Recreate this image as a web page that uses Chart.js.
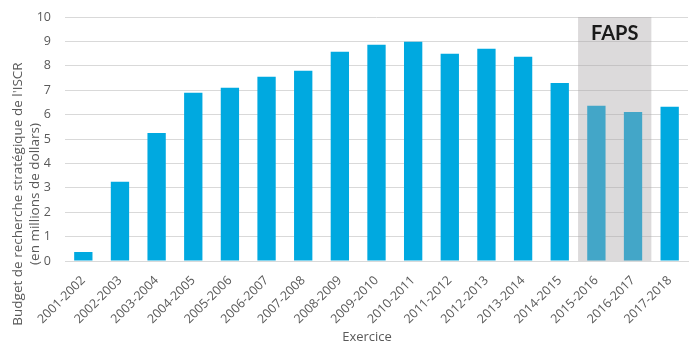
<!DOCTYPE html>
<html>
<head>
<meta charset="utf-8">
<script src="https://cdn.jsdelivr.net/npm/chart.js@4/dist/chart.umd.min.js"></script>
<style>
  body { margin: 0; background: #fff; }
</style>
</head>
<body>
<canvas id="budget-chart" width="700" height="350"></canvas>
<script>
// exercices (fiscal years)
const exercices = ['2001-2002', '2002-2003', '2003-2004', '2004-2005', '2005-2006', '2006-2007',
    '2007-2008', '2008-2009', '2009-2010', '2010-2011', '2011-2012', '2012-2013',
    '2013-2014', '2014-2015', '2015-2016', '2016-2017', '2017-2018'];
// budget, millions of dollars
const budget = [0.37, 3.25, 5.25, 6.9, 7.1, 7.55, 7.8, 8.58, 8.86, 8.99, 8.49, 8.7, 8.37, 7.3, 6.36, 6.11, 6.32];
const yTicks = [0, 1, 2, 3, 4, 5, 6, 7, 8, 9, 10];
// shaded period
const fapsPeriod = ['2015-2016', '2016-2017'];
const fapsLabel = 'FAPS';
const yTitle = ["Budget de recherche stratégique de l'ISCR", '(en millions de dollars)'];
const xTitle = 'Exercice';

const grey = '#595959';

// grey band over the FAPS years, drawn on top of the bars
const fapsBand = {
    id: 'fapsBand',
    afterDatasetsDraw(chart) {
        const ctx = chart.ctx;
        const x = chart.scales.x;
        const y = chart.scales.y;
        const i0 = exercices.indexOf(fapsPeriod[0]);
        const i1 = exercices.indexOf(fapsPeriod[1]);
        const half = (x.getPixelForValue(1) - x.getPixelForValue(0)) / 2;
        const left = x.getPixelForValue(i0) - half;
        const right = x.getPixelForValue(i1) + half;
        const top = y.getPixelForValue(yTicks[yTicks.length - 1]);
        const bottom = y.getPixelForValue(0);
        ctx.save();
        ctx.fillStyle = 'rgba(168,163,165,0.4)';
        ctx.fillRect(left, top, right - left, bottom - top);
        ctx.fillStyle = '#1a1a1a';
        ctx.font = 'bold 20px Lato';
        ctx.textAlign = 'center';
        ctx.textBaseline = 'alphabetic';
        ctx.fillText(fapsLabel, (left + right) / 2, top + 23);
        ctx.restore();
    }
};

// axis titles placed like the original
const axisTitles = {
    id: 'axisTitles',
    afterDraw(chart) {
        const ctx = chart.ctx;
        ctx.save();
        ctx.fillStyle = grey;
        ctx.textAlign = 'center';
        ctx.textBaseline = 'middle';
        ctx.font = '13px "Open Sans"';
        ctx.fillText(xTitle, 367, 337);
        ctx.font = '13.5px "Open Sans"';
        ctx.translate(0, 194);
        ctx.rotate(-Math.PI / 2);
        ctx.fillText(yTitle[0], 0, 18);
        ctx.fillText(yTitle[1], 0, 35);
        ctx.restore();
    }
};

let ctx = document.getElementById('budget-chart');
new Chart(ctx, {
    type: 'bar',
    data: {
        labels: exercices,
        datasets: [{
            data: budget,
            backgroundColor: '#00a9e0',
            borderWidth: 0,
            barPercentage: 0.5,
            categoryPercentage: 1
        }]
    },
    options: {
        responsive: false,
        animation: false,
        layout: { padding: { top: 17, right: 12, left: 0, bottom: 0 } },
        plugins: {
            legend: { display: false },
            tooltip: { enabled: false }
        },
        scales: {
            x: {
                grid: { display: false, drawTicks: false },
                border: { color: '#d9d9d9' },
                ticks: {
                    color: grey,
                    font: { family: 'Open Sans', size: 12.5 },
                    minRotation: 45,
                    maxRotation: 45,
                    padding: 12,
                    autoSkip: false
                },
                afterFit(scale) { scale.height = 89; }
            },
            y: {
                min: 0,
                max: 10,
                grid: { color: '#d9d9d9', drawTicks: false },
                border: { display: false },
                ticks: {
                    stepSize: 1,
                    color: grey,
                    font: { family: 'Open Sans', size: 12.5 },
                    padding: 14
                },
                // plot area pinned where the original has it
                afterFit(scale) { scale.width = 65; scale.paddingTop = 0; }
            }
        }
    },
    plugins: [fapsBand, axisTitles]
});
</script>
</body>
</html>
